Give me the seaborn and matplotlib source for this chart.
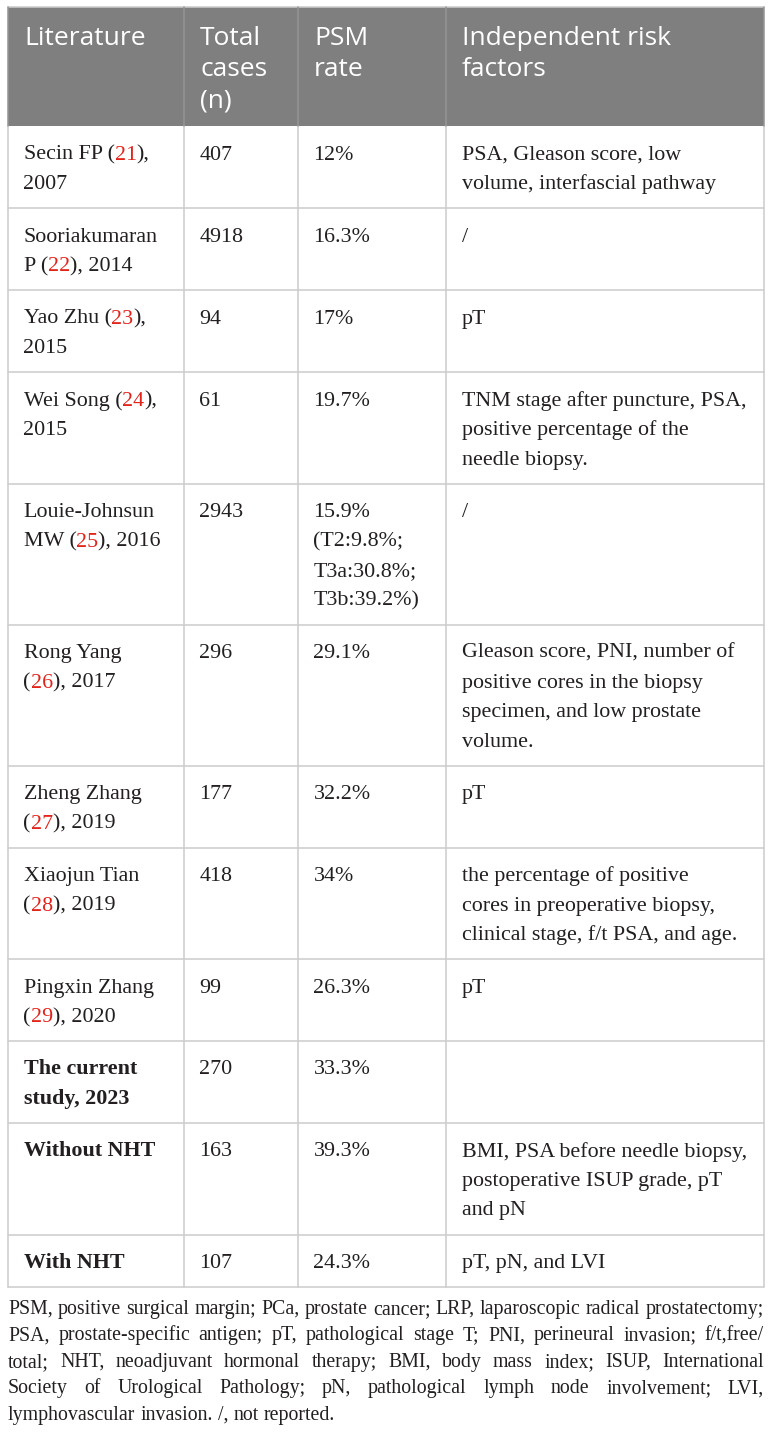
import re
import matplotlib
matplotlib.use("Agg")
import matplotlib.pyplot as plt
from matplotlib.patches import Rectangle
import seaborn as sns

# table content
header = ["Literature", "Total\ncases\n(n)", "PSM\nrate", "Independent risk\nfactors"]

# [n] marks a reference number drawn in red
literature = [
    "Secin FP ([21]),\n2007",
    "Sooriakumaran\nP ([22]), 2014",
    "Yao Zhu ([23]),\n2015",
    "Wei Song ([24]),\n2015",
    "Louie-Johnsun\nMW ([25]), 2016",
    "Rong Yang\n([26]), 2017",
    "Zheng Zhang\n([27]), 2019",
    "Xiaojun Tian\n([28]), 2019",
    "Pingxin Zhang\n([29]), 2020",
    "The current\nstudy, 2023",
    "Without NHT",
    "With NHT",
]
bold_rows = [9, 10, 11]

total_cases = [407, 4918, 94, 61, 2943, 296, 177, 418, 99, 270, 163, 107]

psm_rate = [
    "12%", "16.3%", "17%", "19.7%",
    "15.9%\n(T2:9.8%;\nT3a:30.8%;\nT3b:39.2%)",
    "29.1%", "32.2%", "34%", "26.3%", "33.3%", "39.3%", "24.3%",
]

risk_factors = [
    "PSA, Gleason score, low\nvolume, interfascial pathway",
    "/",
    "pT",
    "TNM stage after puncture, PSA,\npositive percentage of the\nneedle biopsy.",
    "/",
    "Gleason score, PNI, number of\npositive cores in the biopsy\nspecimen, and low prostate\nvolume.",
    "pT",
    "the percentage of positive\ncores in preoperative biopsy,\nclinical stage, f/t PSA, and age.",
    "pT",
    "",
    "BMI, PSA before needle biopsy,\npostoperative ISUP grade, pT\nand pN",
    "pT, pN, and LVI",
]

footnote_lines = [
    "PSM, positive surgical margin; PCa, prostate cancer; LRP, laparoscopic radical prostatectomy;",
    "PSA, prostate-specific antigen; pT, pathological stage T; PNI, perineural invasion; f/t,free/",
    "total; NHT, neoadjuvant hormonal therapy; BMI, body mass index; ISUP, International",
    "Society of Urological Pathology; pN, pathological lymph node involvement; LVI,",
    "lymphovascular invasion. /, not reported.",
]

W, H = 772, 1433
col_x = [8, 184, 298, 446, 764]
pad = 15.5
head_top, head_h = 7, 119
line_h = 29.5
row_pad = 23
body_size = 15.8
foot_size = 14.3
ink = "#231f20"
red = "#e2231a"
grid = "#cccccc"
head_bg = "#7f7f7f"

sns.set_theme(style="white")
plt.rcParams["font.family"] = ["Liberation Serif", "DejaVu Serif"]

fig = plt.figure(figsize=(W / 100, H / 100), dpi=100)
ax = fig.add_axes([0, 0, 1, 1])
ax.set_xlim(0, W)
ax.set_ylim(H, 0)
ax.axis("off")
renderer = fig.canvas.get_renderer()


def text_width(t):
    return t.get_window_extent(renderer).width


def draw_marked(x, y, s, weight="normal"):
    # draws one line where [n] parts are red
    parts = re.split(r"\[(\d+)\]", s)
    for i, p in enumerate(parts):
        if not p:
            continue
        t = ax.text(x, y, p, fontsize=body_size, weight=weight,
                    color=red if i % 2 else ink, va="baseline", ha="left")
        x += text_width(t)


# header
ax.add_patch(Rectangle((col_x[0], head_top), col_x[-1] - col_x[0], head_h,
                       facecolor=head_bg, edgecolor="none"))
for j, h in enumerate(header):
    for k, ln in enumerate(h.split("\n")):
        ax.text(col_x[j] + pad + 0.5, head_top + 38 + 31 * k, ln, color="white",
                fontsize=19, family=["Open Sans", "DejaVu Sans"], va="baseline")

# body rows
y = head_top + head_h
row_lines = [y]
for i in range(len(literature)):
    cells = [literature[i], str(total_cases[i]), psm_rate[i], risk_factors[i]]
    n = max(c.count("\n") + 1 for c in cells)
    for j, c in enumerate(cells):
        for k, ln in enumerate(c.split("\n")):
            by = y + 33.5 + line_h * k
            if j == 0:
                draw_marked(col_x[j] + pad, by, ln,
                            weight="bold" if i in bold_rows else "normal")
            else:
                ax.text(col_x[j] + pad, by, ln, fontsize=body_size, color=ink, va="baseline")
    y += row_pad + line_h * n
    row_lines.append(y)

bottom = row_lines[-1]
for yy in row_lines[1:]:
    ax.plot([col_x[0], col_x[-1]], [yy, yy], color=grid, lw=1.1)
ax.plot([col_x[0], col_x[-1]], [head_top, head_top], color=grid, lw=1.1)
for xx in col_x:
    ax.plot([xx, xx], [head_top + head_h, bottom], color=grid, lw=1.1)
    ax.plot([xx, xx], [head_top, head_top + head_h], color="#959595", lw=1.1)

# footnote, justified
fy = bottom + 27
for k, ln in enumerate(footnote_lines):
    words = ln.split(" ")
    arts = [ax.text(0, fy, w, fontsize=foot_size, color=ink, va="baseline") for w in words]
    widths = [text_width(a) for a in arts]
    if k < len(footnote_lines) - 1:
        gap = (col_x[-1] - col_x[0] - sum(widths)) / (len(words) - 1)
    else:
        gap = 0.25 * foot_size * 100 / 72
    x = col_x[0]
    for a, w in zip(arts, widths):
        a.set_x(x)
        x += w + gap
    fy += 26.4

fig.savefig("out.png", dpi=100)
